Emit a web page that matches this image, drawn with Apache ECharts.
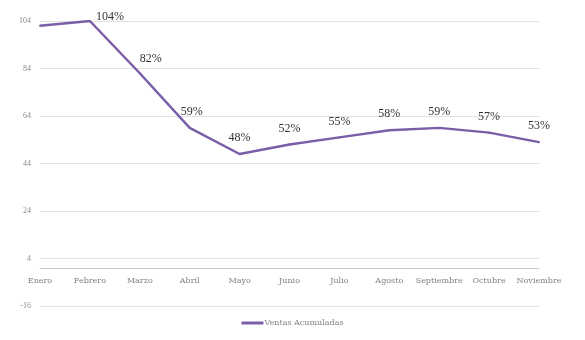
<!DOCTYPE html>
<html><head><meta charset="utf-8">
<script src="https://cdn.jsdelivr.net/npm/echarts@6/dist/echarts.min.js"></script>
<style>html,body{margin:0;padding:0;background:#fff}#c{width:585px;height:340px}</style>
</head><body><div id="c"></div>
<script>
var categories = ['Enero','Febrero','Marzo','Abril','Mayo','Junio','Julio','Agosto','Septiembre','Octubre','Noviembre'];
var ventas = [102, 104, 82, 59, 48, 52, 55, 58, 59, 57, 53];
var labelShown = [false, true, true, true, true, true, true, true, true, true, true];
var yMin = -16, yMax = 104, yStep = 20;
var seriesName = 'Ventas Acumuladas';

var fontFam = '"Liberation Serif", "DejaVu Serif", serif';
var wideFam = '"DejaVu Serif", serif';
var gridTop = 21, gridBottom = 34, H = 340;
var gridH = H - gridTop - gridBottom;
var zeroOffset = -Math.round((0 - yMin) / (yMax - yMin) * gridH);

var labelOffsets = { 1: [20, 12], 2: [11, 2], 3: [2, 0] };
var dataItems = ventas.map(function (v, i) {
  var item = { value: v, label: { show: labelShown[i] } };
  if (labelOffsets[i]) item.label.offset = labelOffsets[i];
  return item;
});

var chart = echarts.init(document.getElementById('c'));
chart.setOption({
  animation: false,
  grid: { left: 40, right: 46, top: gridTop, bottom: gridBottom, containLabel: false },
  legend: {
    bottom: 8, left: 'center',
    data: [seriesName],
    itemWidth: 22, itemHeight: 3, itemGap: 2,
    icon: 'rect',
    itemStyle: { color: '#7a5ea8', opacity: 1 },
    textStyle: { fontFamily: wideFam, fontSize: 8, color: '#808080', padding: [0,0,0,-4] }
  },
  xAxis: {
    type: 'category',
    data: categories,
    boundaryGap: false,
    offset: zeroOffset,
    axisLine: { onZero: false, lineStyle: { color: '#c8c8c8', width: 1 } },
    axisTick: { show: false },
    axisLabel: { fontFamily: wideFam, fontSize: 8, color: '#808080', margin: 9, interval: 0 }
  },
  yAxis: {
    type: 'value',
    min: yMin, max: yMax, interval: yStep,
    axisLine: { show: false },
    axisTick: { show: false },
    axisLabel: { fontFamily: fontFam, fontSize: 8, color: '#8a8a8a', margin: 9 },
    splitLine: { lineStyle: { color: '#e2e2e2', width: 1 } }
  },
  series: [{
    name: seriesName,
    type: 'line',
    data: dataItems,
    symbol: 'circle',
    symbolSize: 2,
    showSymbol: true,
    lineStyle: { color: '#7a5ea8', width: 2.5 },
    itemStyle: { color: '#7a5ea8' },
    label: {
      show: true,
      position: 'top', distance: 9,
      formatter: function (p) { return p.value + '%'; },
      fontFamily: fontFam, fontSize: 12, color: '#333'
    }
  }]
});
</script></body></html>
